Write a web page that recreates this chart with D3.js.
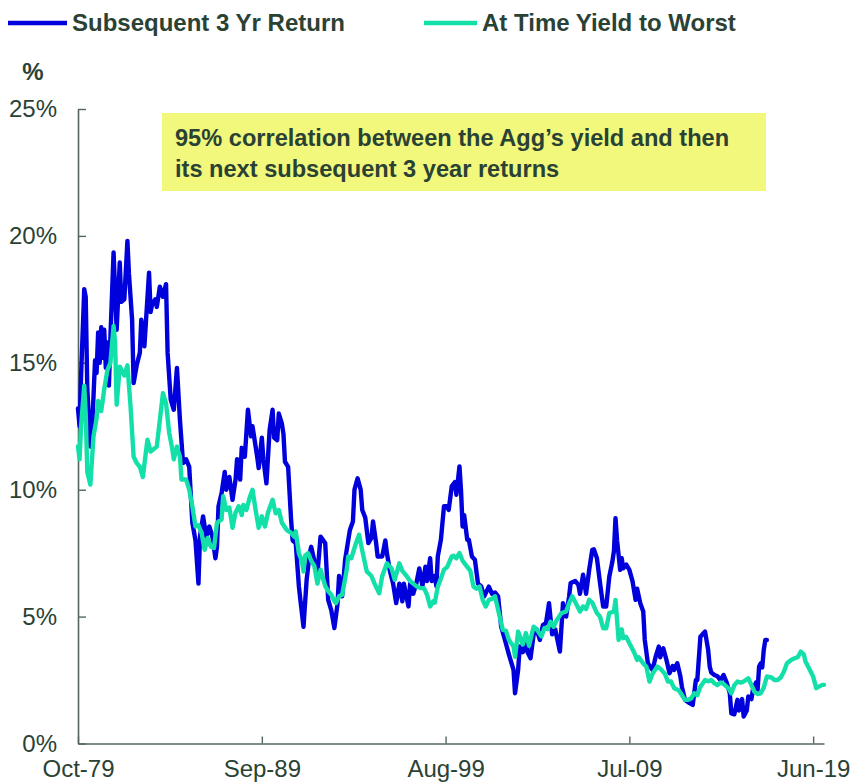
<!DOCTYPE html>
<html><head><meta charset="utf-8">
<script src="https://cdn.jsdelivr.net/npm/d3@7"></script>
<style>
html,body{margin:0;padding:0;background:#fff;}
svg{display:block;font-family:"Liberation Sans",Arial,sans-serif;}
</style></head>
<body>
<svg id="chart" width="854" height="783"></svg>
<script>
// ---- data (months since Oct-1979) ----
const startLabel = "Oct-79";
const tickLabels = ["Oct-79","Sep-89","Aug-99","Jul-09","Jun-19"];
const yTicks = [0,5,10,15,20,25];
const seriesNames = ["Subsequent 3 Yr Return","At Time Yield to Worst"];
const noteLines = ["95% correlation between the Agg\u2019s yield and then","its next subsequent 3 year returns"];

const retMonth = [0,1,2,4,5,6,8,9,11,12,13,14,15,16,17,18,19,20,21,23,25,27,28,30,32,33,35,36,38,40,41,43,46,47,48,50,51,53,55,57,58,60,62,64,66,68,70,72,74,76,78,79,81,83,85,87,89,90,91,93,95,96,98,100,102,103,105,106,108,110,112,113,116,117,119,120,122,124,126,127,129,130,132,133,134,136,138,139,141,143,144,146,148,150,151,153,155,157,160,162,164,166,168,169,171,173,176,178,179,181,183,184,186,188,190,191,193,194,197,199,200,202,204,206,208,210,211,214,215,217,219,221,223,225,226,228,229,231,232,233,235,237,239,240,242,244,245,247,248,249,250,252,253,255,257,259,261,263,266,268,270,272,274,277,279,282,283,285,286,288,290,291,293,295,297,299,301,303,305,307,309,312,314,316,318,319,322,324,325,327,329,331,333,334,336,338,340,342,344,346,347,348,349,351,352,353,355,357,359,361,362,364,366,367,369,372,374,376,377,379,381,383,385,386,388,390,391,393,396,398,400,401,403,406,408,409,410,412,414,416,418,420,422,423,425,427,428,430,431,433,434,436,437,439,440,441,442,443,444,445,446];
const retValue = [13.2,12.5,14.5,17.9,17.6,14.0,11.7,12.2,15.1,14.6,16.2,15.0,16.4,15.2,16.3,14.8,15.8,14.1,16.0,19.35,16.3,18.95,17.4,17.5,19.8,18.5,16.7,14.2,14.9,15.4,16.7,15.65,18.55,17.0,17.3,17.5,17.2,18.0,17.6,18.1,15.4,13.55,13.15,14.8,12.75,11.05,11.2,10.9,8.7,8.0,6.3,8.15,8.95,8.15,8.55,8.15,7.3,7.75,9.35,9.87,10.7,10.0,10.5,9.6,10.4,11.2,10.4,11.65,11.3,13.15,12.1,12.5,11.3,10.85,12.05,11.2,10.25,12.35,13.15,12.05,11.95,13.0,12.6,12.2,11.1,10.9,8.8,8.0,7.9,6.2,5.65,4.6,6.45,7.5,7.75,7.2,6.7,8.15,7.9,5.66,5.25,4.55,5.5,6.6,5.8,7.25,8.4,8.75,10.0,10.45,10.0,9.2,8.9,7.9,8.1,8.75,7.9,7.37,7.37,8.0,7.5,6.78,6.3,5.53,6.3,5.6,6.3,5.4,6.3,5.9,6.3,6.9,6.2,6.97,6.4,7.3,6.4,6.6,6.2,7.37,8.03,9.35,9.35,9.2,10.13,10.3,9.8,10.92,9.95,8.55,9.0,8.03,8.03,7.37,7.24,6.3,6.2,5.8,6.18,5.9,5.95,5.8,4.6,3.95,3.5,2.9,1.98,2.9,3.82,3.6,4.08,3.6,3.36,4.3,4.5,4.08,4.67,4.75,5.53,4.3,4.5,3.62,5.53,5.0,5.8,6.32,6.4,6.25,5.9,6.65,5.9,6.84,7.63,7.65,7.3,6.32,5.4,5.4,6.58,7.17,7.6,8.88,8.0,6.84,7.3,6.9,7.05,6.84,6.4,5.66,6.1,5.53,5.2,4.08,3.16,2.9,3.42,3.82,3.4,3.75,3.3,2.77,3.05,2.9,3.16,2.65,2.24,1.72,1.59,1.52,2.5,2.5,4.21,4.41,3.69,3.03,2.8,2.7,2.65,2.5,2.7,2.4,1.98,1.19,1.15,1.72,1.3,1.75,1.06,1.3,1.85,1.75,2.11,2.4,2.1,3.03,3.15,3.0,3.69,4.08,4.08];

const ytwMonth = [0,1,2,4,5,6,8,10,12,13,15,17,19,21,23,24,25,27,30,32,34,36,38,40,42,44,45,47,49,51,53,55,57,59,61,62,64,65,66,67,70,72,74,76,78,80,82,84,86,88,90,93,94,96,98,100,102,104,106,107,109,111,113,115,117,119,121,123,126,128,130,132,135,138,140,141,143,145,146,147,149,151,153,155,157,160,162,164,166,167,169,171,173,174,175,177,180,182,184,187,190,192,195,197,200,203,205,208,210,213,215,217,219,222,224,226,228,230,231,233,235,237,239,242,243,245,247,249,251,254,256,258,260,262,264,266,268,270,272,275,277,279,282,283,285,288,290,292,295,297,300,302,304,306,308,310,313,316,318,320,323,325,327,329,331,333,336,338,340,342,344,347,348,350,352,353,355,357,360,362,363,366,368,370,372,375,377,380,382,384,386,389,391,393,395,397,399,401,403,406,408,410,412,414,416,418,421,423,425,427,429,431,434,436,438,440,442,444,446,449,451,453,455,457,459,462,464,466,468,470,471,473,476,478,480,482,483];
const ytwValue = [11.7,11.2,12.5,14.1,13.0,10.7,10.2,12.1,12.8,13.5,13.1,13.95,14.7,15.0,16.45,15.8,13.35,14.85,14.5,14.9,13.3,11.3,11.05,10.9,10.5,11.5,11.97,11.5,11.6,11.7,12.75,13.8,13.4,12.25,11.6,11.2,11.7,11.5,11.3,10.4,10.4,10.0,9.35,8.55,8.6,8.3,7.63,8.1,7.75,7.7,8.7,8.83,9.74,9.2,9.3,8.5,9.1,9.35,9.0,9.4,9.2,9.67,10.0,9.2,8.5,8.95,8.55,9.1,9.6,9.07,9.2,8.7,8.42,8.3,8.15,8.36,7.5,7.17,6.78,7.4,7.5,7.2,7.0,6.3,6.85,6.2,6.0,5.86,5.6,5.53,5.8,5.86,6.5,6.85,7.37,7.3,7.9,8.22,7.6,6.78,6.6,6.3,5.92,6.6,7.1,6.9,6.45,7.1,6.8,6.58,6.4,6.3,6.2,6.12,6.12,5.86,5.4,5.6,5.55,6.18,6.5,6.85,6.95,7.37,7.4,7.3,7.5,7.2,7.04,6.8,6.18,6.1,6.18,5.66,5.4,5.66,5.7,5.8,5.27,4.48,4.45,4.08,3.82,3.42,4.41,3.9,4.35,3.85,4.6,4.5,4.22,4.55,4.5,4.8,4.6,4.87,5.14,5.2,5.53,5.8,5.45,5.2,5.4,5.3,5.66,5.55,5.14,5.0,4.54,4.54,5.14,5.2,5.66,4.08,4.5,4.15,4.2,3.95,3.6,3.29,3.4,3.15,3.03,2.44,2.75,3.03,2.95,2.75,2.44,2.44,2.18,2.1,1.91,1.72,1.72,1.78,1.98,1.9,2.24,2.5,2.45,2.5,2.37,2.3,2.4,2.35,2.18,1.98,2.3,2.44,2.4,2.44,2.57,2.3,2.04,1.95,1.98,2.2,2.64,2.6,2.5,2.5,2.6,2.83,3.16,3.3,3.36,3.4,3.62,3.5,3.23,3.0,2.64,2.18,2.25,2.31,2.31];

const lastMonth = 483;

// ---- styles ----
const BLUE = "#0000dc", GREEN = "#12e0a8";
const TXT = "#2a4234", AX = "#52675a", NOTE_BG = "#f2f87c";

const parse = d3.timeParse("%b-%y");
const start = parse(startLabel);
const toDate = m => d3.timeMonth.offset(start, m);

const svg = d3.select("#chart");
const x = d3.scaleTime().domain([start, toDate(lastMonth)]).range([78, 824]);
const y = d3.scaleLinear().domain([0, 25]).range([743.5, 109]);

// axes
const yAxis = d3.axisLeft(y).tickValues(yTicks).tickFormat(d => d + "%")
  .tickSize(-8).tickSizeOuter(0).tickPadding(21);
const gy = svg.append("g").attr("transform","translate(78,0)").call(yAxis);
const xAxis = d3.axisBottom(x).tickValues(tickLabels.map(parse)).tickFormat((d,i)=>tickLabels[i])
  .tickSize(-7).tickSizeOuter(0).tickPadding(16.5);
const gx = svg.append("g").attr("transform","translate(0,743.5)").call(xAxis);
[gx, gy].forEach(g => {
  g.select(".domain").attr("stroke", AX).attr("stroke-width", 1.6);
  g.selectAll(".tick line").attr("stroke", AX).attr("stroke-width", 1.4);
  g.selectAll(".tick text").attr("fill", TXT).attr("font-size", "24px")
    .attr("font-family", "'Liberation Sans', Arial, sans-serif");
});

// unit label
svg.append("text").attr("x", 33).attr("y", 80).attr("text-anchor","middle")
  .attr("font-weight","bold").attr("font-size","24px").attr("fill",TXT).text("%");

// note box
svg.append("rect").attr("x",162).attr("y",113).attr("width",604).attr("height",78).attr("fill",NOTE_BG);
noteLines.forEach((t,i) => {
  svg.append("text").attr("x",175).attr("y",146 + i*31).attr("font-weight","bold")
    .attr("font-size","23.6px").attr("fill",TXT).text(t);
});

// lines
const line = d3.line().x(d => x(toDate(d[0]))).y(d => y(d[1])).curve(d3.curveLinear);
const retData = retMonth.map((m,i) => [m, retValue[i]]);
const ytwData = ytwMonth.map((m,i) => [m, ytwValue[i]]);
svg.append("path").datum(retData).attr("d", line).attr("fill","none")
  .attr("stroke", BLUE).attr("stroke-width", 4.4).attr("stroke-linejoin","round").attr("stroke-linecap","round");
svg.append("path").datum(ytwData).attr("d", line).attr("fill","none")
  .attr("stroke", GREEN).attr("stroke-width", 4.4).attr("stroke-linejoin","round").attr("stroke-linecap","round");

// legend
const legend = [{name: seriesNames[0], color: BLUE, x0: 8, x1: 67, tx: 72},
                {name: seriesNames[1], color: GREEN, x0: 424, x1: 477, tx: 482}];
legend.forEach(l => {
  svg.append("line").attr("x1", l.x0).attr("x2", l.x1).attr("y1", 23).attr("y2", 23)
    .attr("stroke", l.color).attr("stroke-width", 4.5);
  svg.append("text").attr("x", l.tx).attr("y", 31).attr("font-weight","bold")
    .attr("font-size","24px").attr("fill", TXT).text(l.name);
});
</script>
</body></html>
